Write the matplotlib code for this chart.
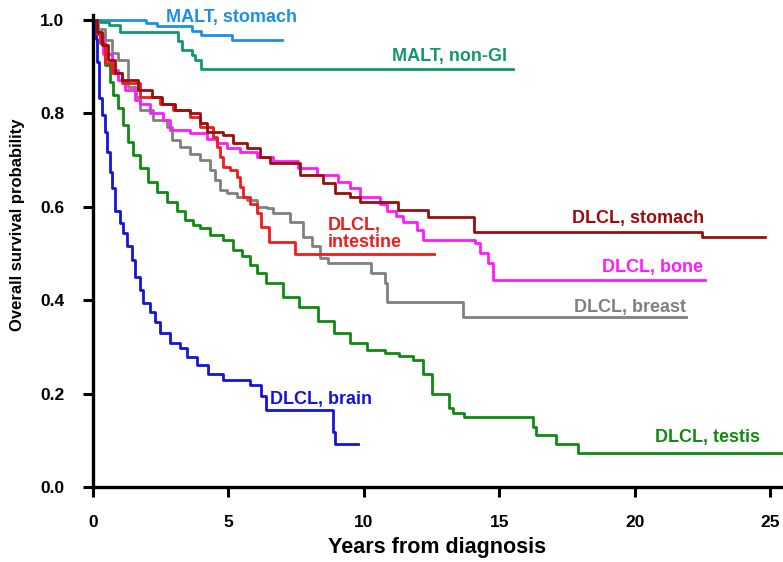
import matplotlib
matplotlib.use('Agg')
import matplotlib.pyplot as plt

plt.rcParams['font.family'] = ['Liberation Sans', 'DejaVu Sans']
plt.rcParams['font.weight'] = 'bold'

# Kaplan-Meier curves: (years, survival)
malt_stomach_t = [0, 1.95, 2.35, 3.64, 4.0, 5.12, 6.97]
malt_stomach_s = [1.0, 0.993, 0.987, 0.976, 0.968, 0.957, 0.957]

malt_nongi_t = [0, 0.25, 0.6, 1.0, 3.15, 3.27, 3.64, 3.77, 4.0, 15.5]
malt_nongi_s = [1.0, 0.996, 0.989, 0.975, 0.954, 0.936, 0.925, 0.914, 0.896, 0.896]

stomach_t = [0, 0.15, 0.32, 0.57, 0.81, 1.06, 1.67, 2.17, 2.54, 3.03, 3.58, 3.95,
             4.2, 4.81, 5.18, 5.68, 6.17, 6.54, 7.65, 8.5, 8.94, 9.5, 9.86, 11.26,
             12.37, 14.08, 22.5, 24.8]
stomach_s = [1.0, 0.975, 0.946, 0.914, 0.886, 0.871, 0.85, 0.836, 0.821, 0.807,
             0.80, 0.779, 0.761, 0.754, 0.736, 0.725, 0.707, 0.693, 0.668, 0.65,
             0.629, 0.62, 0.611, 0.593, 0.578, 0.547, 0.535, 0.535]

intestine_t = [0, 0.15, 0.26, 0.44, 0.69, 1.06, 1.74, 2.47, 2.97, 3.58, 3.95, 4.44,
               4.57, 4.69, 4.81, 5.06, 5.3, 5.43, 5.55, 5.8, 6.04, 6.2, 6.5, 7.46,
               12.6]
intestine_s = [1.0, 0.97, 0.95, 0.907, 0.886, 0.864, 0.836, 0.821, 0.807, 0.793,
               0.771, 0.75, 0.729, 0.707, 0.686, 0.679, 0.664, 0.643, 0.622, 0.607,
               0.586, 0.557, 0.525, 0.499, 0.499]

bone_t = [0, 0.15, 0.38, 0.69, 0.94, 1.18, 1.55, 1.74, 2.1, 2.6, 2.84, 3.58, 4.2,
          4.57, 4.94, 5.43, 6.04, 6.66, 7.58, 8.26, 9.06, 9.5, 9.86, 10.6, 10.85,
          11.2, 11.46, 11.95, 12.2, 14.1, 14.29, 14.6, 14.78, 22.6]
bone_s = [1.0, 0.97, 0.928, 0.893, 0.872, 0.85, 0.829, 0.821, 0.80, 0.786, 0.764,
          0.757, 0.746, 0.736, 0.725, 0.718, 0.707, 0.697, 0.682, 0.668, 0.654,
          0.64, 0.622, 0.607, 0.59, 0.58, 0.568, 0.55, 0.529, 0.522, 0.50, 0.48,
          0.443, 0.443]

breast_t = [0, 0.2, 0.44, 0.7, 0.94, 1.3, 1.6, 1.74, 2.23, 2.72, 2.9, 3.21, 3.58,
            3.95, 4.32, 4.5, 4.69, 4.94, 5.3, 5.68, 6.04, 6.41, 6.66, 7.27, 7.77,
            8.08, 8.38, 8.69, 10.25, 10.78, 10.85, 13.65, 21.9]
breast_s = [1.0, 0.98, 0.957, 0.93, 0.914, 0.857, 0.835, 0.807, 0.786, 0.771,
            0.743, 0.729, 0.714, 0.70, 0.679, 0.657, 0.636, 0.629, 0.622, 0.615,
            0.60, 0.597, 0.586, 0.568, 0.536, 0.515, 0.49, 0.479, 0.458, 0.436,
            0.397, 0.365, 0.365]

testis_t = [0, 0.15, 0.3, 0.38, 0.44, 0.63, 0.75, 0.94, 1.12, 1.3, 1.49, 1.74, 2.04,
            2.35, 2.72, 3.09, 3.4, 3.7, 3.95, 4.32, 4.81, 5.18, 5.5, 5.8, 6.04, 6.4,
            7.0, 7.6, 8.3, 8.9, 9.5, 10.1, 10.8, 11.3, 11.8, 12.2, 12.5, 13.15,
            13.3, 13.7, 16.25, 16.35, 17.1, 17.9, 25.6]
testis_s = [1.0, 0.975, 0.955, 0.946, 0.904, 0.868, 0.839, 0.811, 0.775, 0.739,
            0.711, 0.682, 0.654, 0.632, 0.611, 0.59, 0.572, 0.56, 0.554, 0.54, 0.529,
            0.507, 0.495, 0.475, 0.458, 0.436, 0.407, 0.386, 0.355, 0.329, 0.308,
            0.293, 0.286, 0.281, 0.272, 0.243, 0.20, 0.17, 0.158, 0.149, 0.128,
            0.111, 0.093, 0.072, 0.072]

brain_t = [0, 0.1, 0.16, 0.23, 0.32, 0.44, 0.5, 0.63, 0.69, 0.81, 1.0, 1.12, 1.24,
           1.43, 1.55, 1.74, 1.86, 2.1, 2.29, 2.47, 2.84, 3.21, 3.46, 3.83, 4.26,
           4.81, 5.8, 6.2, 6.38, 8.87, 8.94, 9.8]
brain_s = [1.0, 0.96, 0.91, 0.832, 0.797, 0.761, 0.718, 0.675, 0.64, 0.59, 0.565,
           0.543, 0.515, 0.486, 0.45, 0.422, 0.393, 0.375, 0.354, 0.329, 0.308,
           0.297, 0.279, 0.261, 0.243, 0.229, 0.218, 0.195, 0.165, 0.118, 0.093,
           0.093]

curves = [
    (malt_stomach_t, malt_stomach_s, '#1f8fe6'),
    (malt_nongi_t, malt_nongi_s, '#12996a'),
    (testis_t, testis_s, '#118a11'),
    (brain_t, brain_s, '#1414dd'),
    (breast_t, breast_s, '#808080'),
    (bone_t, bone_s, '#ff19ff'),
    (intestine_t, intestine_s, '#ee1c1c'),
    (stomach_t, stomach_s, '#9b0e0e'),
]

labels = [
    ('MALT, stomach', 2.7, 1.006, '#1f8fe6'),
    ('MALT, non-GI', 11.05, 0.922, '#12996a'),
    ('DLCL, stomach', 17.7, 0.574, '#9b0e0e'),
    ('DLCL,\nintestine', 8.68, 0.542, '#ee1c1c'),
    ('DLCL, bone', 18.8, 0.469, '#ff19ff'),
    ('DLCL, breast', 17.75, 0.385, '#808080'),
    ('DLCL, testis', 20.75, 0.105, '#118a11'),
    ('DLCL, brain', 6.55, 0.188, '#1414dd'),
]

fig = plt.figure(figsize=(7.83, 5.62), dpi=100)
ax = fig.add_axes([93 / 783, 75 / 562, 690 / 783, 471.7 / 562])

for t, s, c in curves:
    ax.plot(t, s, drawstyle='steps-post', color=c, lw=2.0)

for txt, x, y, c in labels:
    ax.text(x, y, txt, color=c, fontsize=13, fontweight='bold', ha='left',
            va='center', linespacing=1.05)

ax.set_xlim(0, 25.48)
ax.set_ylim(0, 1.01)
ax.set_xticks([0, 5, 10, 15, 20, 25])
ax.set_yticks([0.0, 0.2, 0.4, 0.6, 0.8, 1.0])
ax.set_yticklabels(['0.0', '0.2', '0.4', '0.6', '0.8', '1.0'])
ax.tick_params(direction='out', length=7.5, width=2.2, labelsize=12.5, pad=13)
for sp in ['top', 'right']:
    ax.spines[sp].set_visible(False)
for sp in ['left', 'bottom']:
    ax.spines[sp].set_linewidth(2.4)
for lab in ax.get_xticklabels() + ax.get_yticklabels():
    lab.set_fontweight('bold')

fig.text(437 / 783, 1 - 548 / 562, 'Years from diagnosis', fontsize=15.5,
         fontweight='bold', ha='center', va='center')
fig.text(18 / 783, 1 - 225 / 562, 'Overall survival probability', fontsize=12,
         fontweight='bold', ha='center', va='center', rotation=90)

fig.savefig('out.png', dpi=100)
